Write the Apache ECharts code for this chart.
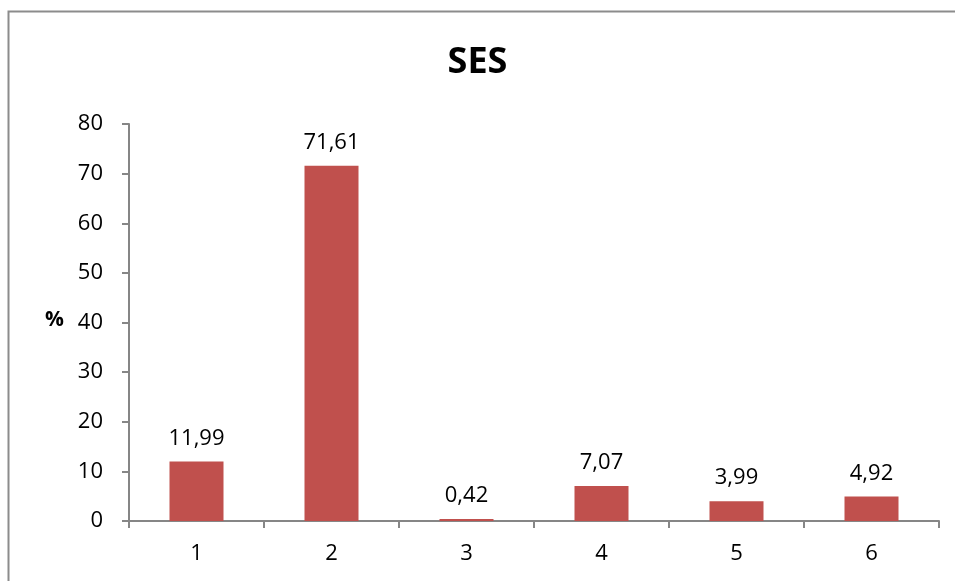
<!DOCTYPE html>
<html style="height: 100%; width: 100%">
<head>
  <meta charset="utf-8" />
</head>
<body style="height: 100%; width: 100%; margin: 0; background: #fff;">
  <div id="chart-panel" style="height: 581px; width: 955px;"></div>
  <script type="text/javascript" src="https://cdn.jsdelivr.net/npm/echarts@6/dist/echarts.min.js"></script>
  <script type="text/javascript">
    var categories = ["1", "2", "3", "4", "5", "6"];
    var values = [11.99, 71.61, 0.42, 7.07, 3.99, 4.92];
    var yTicks = [0, 10, 20, 30, 40, 50, 60, 70, 80];

    var myChart = echarts.init(document.getElementById("chart-panel"));
    var font = "'Open Sans', 'Noto Sans', sans-serif";

    var option = {
      animation: false,
      backgroundColor: "#fff",
      textStyle: { fontFamily: font },
      title: {
        text: "SES",
        left: "center",
        top: 40,
        textStyle: { fontSize: 36, fontWeight: "bold", color: "#000", fontFamily: font },
      },
      graphic: [
        {
          type: "rect",
          shape: { x: 8.5, y: 11.5, width: 960, height: 600 },
          style: { fill: null, stroke: "#8c8c8c", lineWidth: 2 },
          silent: true,
        },
        {
          type: "text",
          left: 45,
          top: 310,
          style: { text: "%", font: "bold 21px " + font, fill: "#000" },
        },
      ],
      grid: { left: 129, right: 16, top: 124, bottom: 60 },
      xAxis: {
        type: "category",
        data: categories,
        axisLine: { lineStyle: { color: "#868686", width: 2 } },
        axisTick: { show: true, length: 7, lineStyle: { color: "#868686", width: 2 } },
        axisLabel: { margin: 22, fontSize: 22, color: "#000" },
      },
      yAxis: {
        type: "value",
        min: yTicks[0],
        max: yTicks[yTicks.length - 1],
        interval: 10,
        axisLine: { show: true, lineStyle: { color: "#868686", width: 2 } },
        axisTick: { show: true, length: 7, lineStyle: { color: "#868686", width: 2 } },
        splitLine: { show: false },
        axisLabel: { margin: 26, fontSize: 22, color: "#000" },
      },
      series: [
        {
          type: "bar",
          data: values,
          barWidth: "40%",
          itemStyle: { color: "#C0504D" },
          label: {
            show: true,
            position: "top",
            distance: 12,
            fontSize: 22,
            color: "#000",
            formatter: function (p) {
              return p.value.toFixed(2).replace(".", ",");
            },
          },
        },
      ],
    };

    myChart.setOption(option);
  </script>
</body>
</html>
